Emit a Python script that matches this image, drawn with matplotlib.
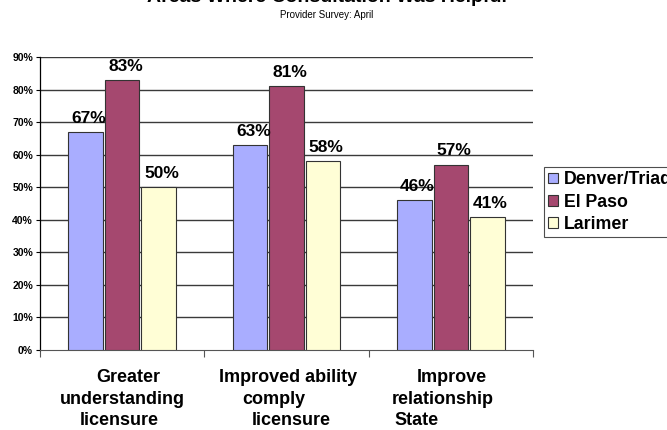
import matplotlib.pyplot as plt
import matplotlib.transforms as mtransforms
import numpy as np

plt.rcParams['font.family'] = ['Liberation Sans', 'DejaVu Sans']

# category labels, one list of lines per group
categories = [["Greater", "understanding", "licensure"],
              ["Improved ability", "comply", "licensure"],
              ["Improve", "relationship", "State"]]
series = ["Denver/Triad", "El Paso", "Larimer"]
denver = [67, 63, 46]
el_paso = [83, 81, 57]
larimer = [50, 58, 41]
colors = ["#A9ADFF", "#A5486F", "#FFFED6"]
yticks = [0, 10, 20, 30, 40, 50, 60, 70, 80, 90]

fig = plt.figure(figsize=(6.67, 4.3), dpi=100)
ax = fig.add_axes([0.060, 0.186, 0.739, 0.681])

x = np.arange(len(categories))
w = 0.21
offs = [-0.222, 0, 0.222]
for vals, name, col, off in zip([denver, el_paso, larimer], series, colors, offs):
    bars = ax.bar(x + off, vals, w, color=col, edgecolor="#333333",
                  linewidth=0.8, label=name, zorder=3)
    for b, v in zip(bars, vals):
        ax.text(b.get_x() + b.get_width() / 2 + 0.02, v + 2.8, f"{v}%",
                ha="center", va="baseline", fontsize=12.5, fontweight="bold",
                zorder=4)

ax.set_xlim(-0.5, 2.5)
ax.set_ylim(0, 90)
ax.set_yticks(yticks)
ax.set_yticklabels([f"{t}%" for t in yticks], fontsize=7.5, fontweight="bold")
for t in yticks[1:]:
    ax.axhline(t, color="#3a3a3a", linewidth=1, zorder=1)

ax.set_xticks([-0.5, 0.5, 1.5, 2.5])
ax.set_xticklabels([])
ax.tick_params(axis="x", length=5, width=0.8, direction="out", color="#555555")
ax.tick_params(axis="y", length=3, width=0.8, pad=2)

# wrapped category labels, each line nudged the way the old sheet had them
nudges = [[0.04, 0.0, -0.02], [0.01, -0.075, 0.03], [0.005, -0.05, -0.21]]
blend = mtransforms.blended_transform_factory(ax.transData, fig.transFigure)
baselines = [1 - 382 / 430, 1 - 404 / 430, 1 - 425 / 430]
for i, lines in enumerate(categories):
    for line, dx, yb in zip(lines, nudges[i], baselines):
        ax.text(i + dx, yb, line, transform=blend, ha="center",
                va="baseline", fontsize=13, fontweight="bold")

for s in ["top", "right"]:
    ax.spines[s].set_visible(False)
ax.spines["left"].set_linewidth(0.9)
ax.spines["bottom"].set_color("#555555")

leg = fig.legend(loc="upper left", bbox_to_anchor=(0.8156, 0.612),
                 prop={"size": 12.8, "weight": "bold"}, frameon=True,
                 fancybox=False, edgecolor="#222222", handlelength=0.55,
                 handleheight=0.55, handletextpad=0.3, borderpad=0.25,
                 labelspacing=0.3, borderaxespad=0)
leg.get_frame().set_linewidth(0.8)

fig.text(0.49, 0.995, "Areas Where Consultation Was Helpful",
         ha="center", va="baseline", fontsize=14, fontweight="bold")
fig.text(0.489, 1 - 15 / 430, "Provider Survey: April", ha="center",
         va="center", fontsize=7)

fig.savefig("out.png", dpi=100)
